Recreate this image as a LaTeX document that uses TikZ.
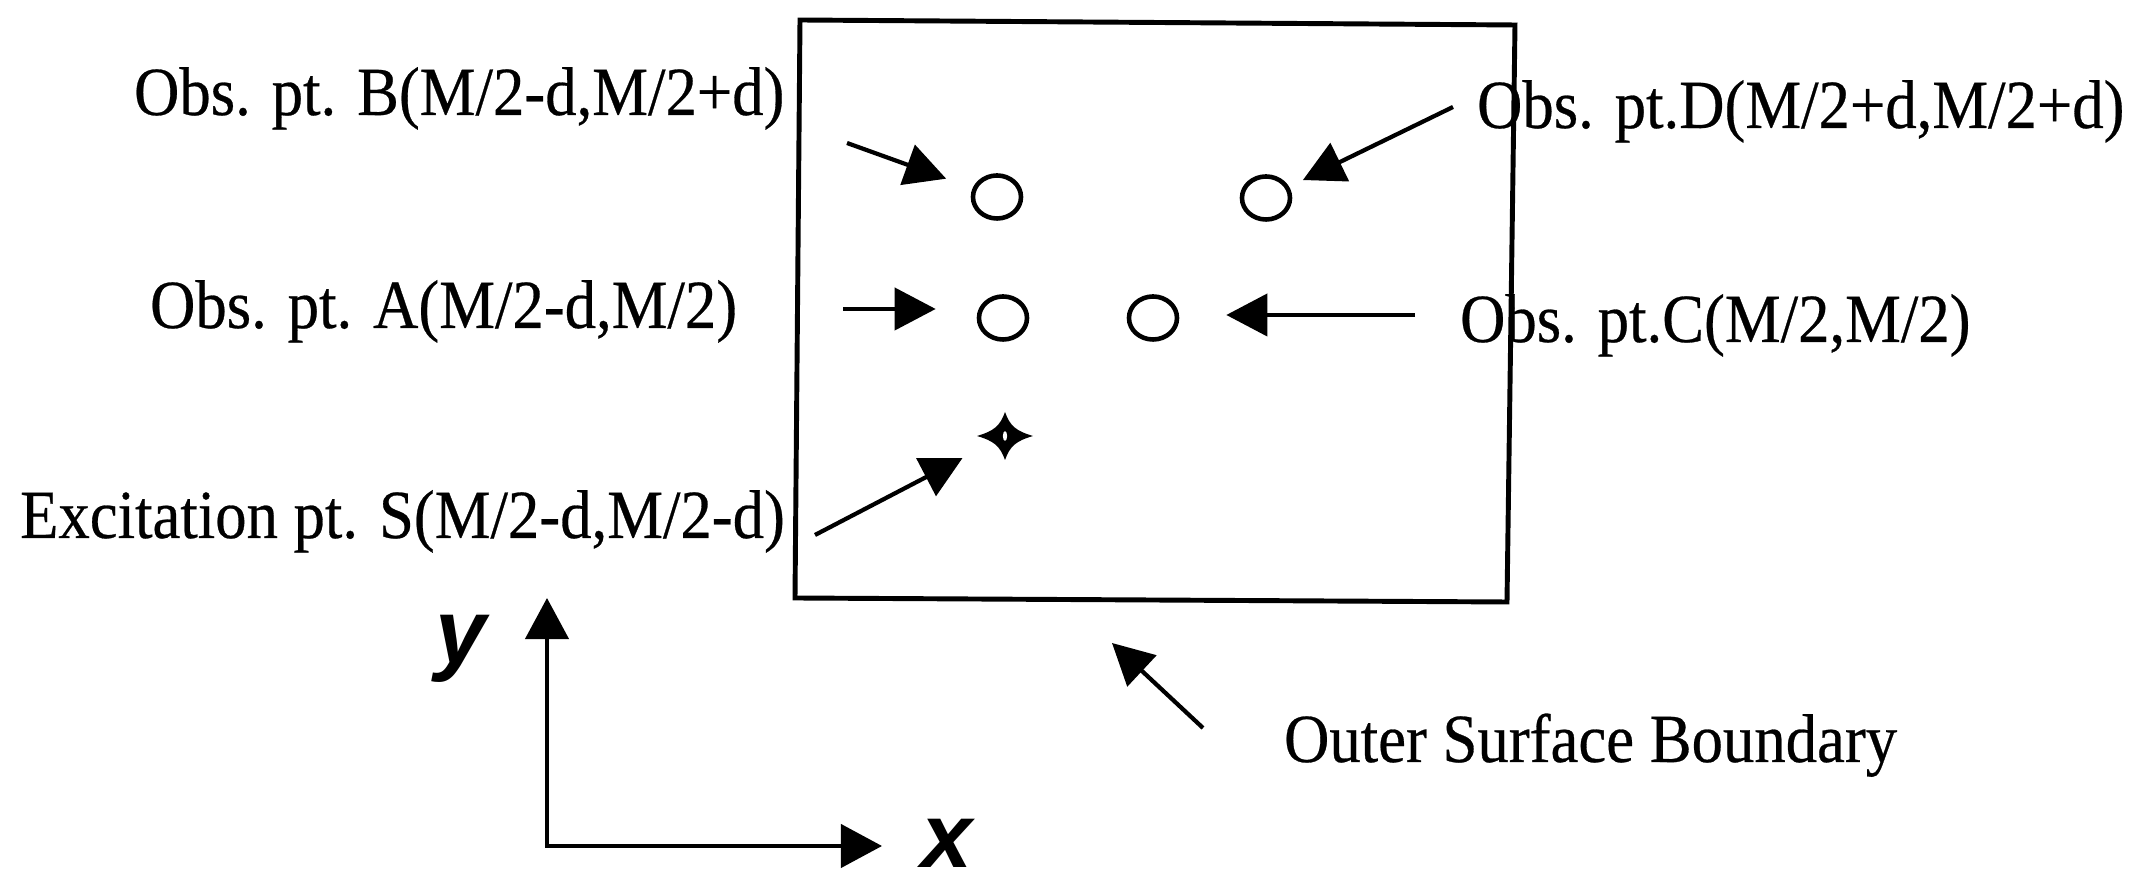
\documentclass[tikz,border=0pt]{standalone}
\usepackage{fontspec}
\setmainfont{Liberation Serif}[FakeStretch=0.91,FakeBold=0.4]
\newfontfamily\axfont{Liberation Sans}
\usetikzlibrary{arrows.meta,shapes.geometric}
\begin{document}
\begin{tikzpicture}[x=0.01cm,y=-0.01cm,line width=1.2pt,
  lbl/.style={inner sep=0pt,anchor=base west,font=\fontsize{19.6}{22}\selectfont},
  obspt/.style={draw,ellipse,inner sep=0pt,minimum width=0.48cm,minimum height=0.43cm,line width=1.3pt},
  ptr/.style={-{Triangle[length=0.41cm,width=0.42cm]}},
  axlbl/.style={inner sep=0pt,anchor=base,font=\axfont\bfseries\itshape\fontsize{26}{28}\selectfont}]
\useasboundingbox (0,0) rectangle (2129,886);
\draw[line width=1.4pt] (800,20)--(1515,25)--(1507,602)--(795,598)--cycle;
\node[obspt] (ptB) at (997,197) {};
\node[obspt] (ptD) at (1266,198) {};
\node[obspt] (ptA) at (1003,318) {};
\node[obspt] (ptC) at (1153,318) {};
\coordinate (ptS) at (1005,436);
\fill[shift={(ptS)}] (28,0) .. controls (11,-5) and (5,-10) .. (0,-24) .. controls (-5,-10) and (-11,-5) .. (-28,0)
  .. controls (-11,5) and (-5,10) .. (0,24) .. controls (5,10) and (11,5) .. (28,0) -- cycle;
\fill[white] (ptS) ellipse (0.6pt and 1.4pt);
\node[lbl] (lblB) at (132,115) {Obs. pt. B(M/2-d,M/2+d)};
\node[lbl] (lblD) at (1475,128) {Obs. pt.D(M/2+d,M/2+d)};
\node[lbl] (lblA) at (148,328) {Obs. pt. A(M/2-d,M/2)};
\node[lbl] (lblC) at (1458,342) {Obs. pt.C(M/2,M/2)};
\node[lbl] (lblS) at (18,538) {Excitation pt. S(M/2-d,M/2-d)};
\node[lbl] (lblO) at (1282,762) {Outer Surface Boundary};
\coordinate (tB) at (847,143); \coordinate (tD) at (1453,107);
\coordinate (tA) at (843,309); \coordinate (tC) at (1415,315);
\coordinate (tS) at (815,535);
\coordinate (tO) at (1203,728); \coordinate (hO) at (1112,643);
\draw[ptr,shorten >=0.54cm] (tB)--(ptB.center);
\draw[ptr,shorten >=0.41cm] (tD)--(ptD.center);
\draw[ptr,shorten >=0.41cm] (tA)--(tA-|ptA.west);
\draw[ptr,shorten >=0.47cm] (tC)--(tC-|ptC.east);
\draw[ptr,shorten >=0.48cm] (tS)--(ptS);
\draw[ptr] (tO)--(hO);
\coordinate (org) at (547,846); \coordinate (ytip) at (547,598); \coordinate (xtip) at (882,846);
\draw[{Triangle[length=0.41cm,width=0.43cm]}-{Triangle[length=0.41cm,width=0.43cm]}] (ytip)--(org)--(xtip);
\node[axlbl] (ylbl) at (461,664) {y};
\node[axlbl] (xlbl) at (947,868) {x};
\end{tikzpicture}
\end{document}
